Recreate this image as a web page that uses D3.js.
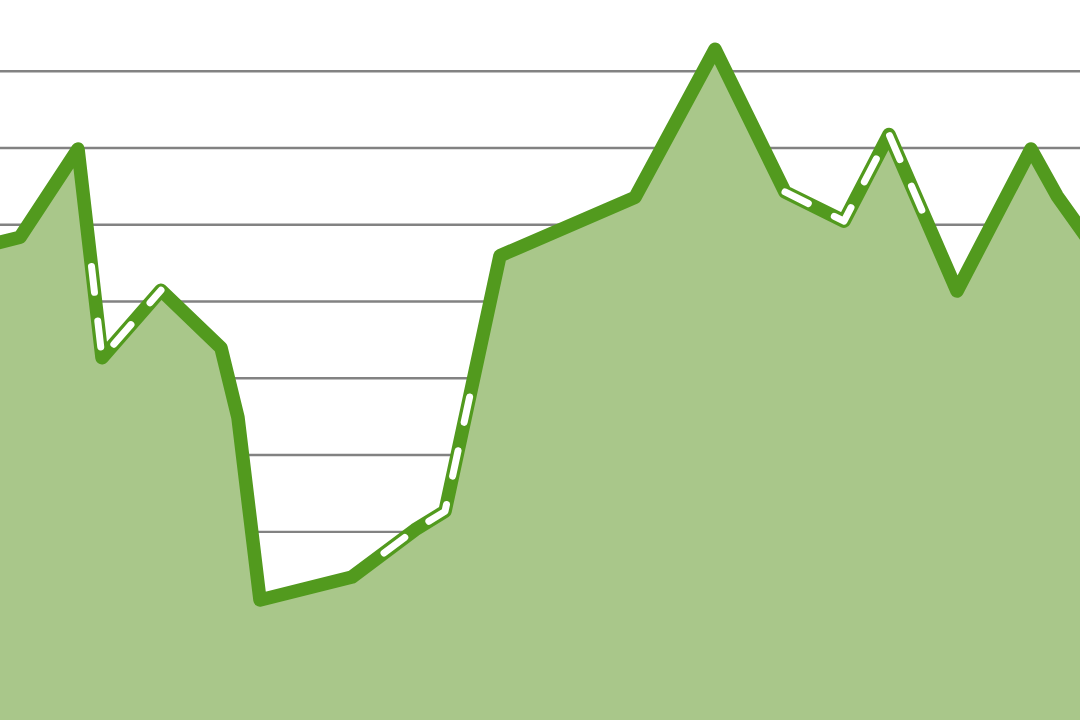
<!DOCTYPE html>
<html>
<head>
<meta charset="utf-8">
<script src="https://cdn.jsdelivr.net/npm/d3@7"></script>
<style>
  html, body { margin: 0; padding: 0; background: #ffffff; }
  svg { display: block; }
</style>
</head>
<body>
<div id="chart"></div>
<script>
// ---- data ----
const xValues = [-3, 2, 7.8, 10.2, 16.1, 22.1, 23.8, 26, 35.2, 41.5, 44.5, 50, 63.5, 71.5, 78.5, 84.4, 88.9, 95.7, 103.1, 105.7, 111];
const yValues = [46.7, 48.3, 59.8, 32.6, 41.4, 33.9, 24.8, 1.05, 4.05, 10.2, 12.6, 45.9, 53.5, 72.8, 54.2, 50.4, 61.7, 41.3, 59.8, 53.7, 44.0];
const gridValues = [10, 20, 30, 40, 50, 60, 70];
// x-ranges drawn with the dashed overlay
const dashedStart = [9.15, 38.4, 78.5];
const dashedEnd   = [16.1, 47.1, 93.2];

const W = 1080, H = 720;
const data = xValues.map((x, i) => ({ x, y: yValues[i] }));

const x = d3.scaleLinear().domain([0, 108]).range([0, W]);
const y = d3.scaleLinear().domain([0, 80]).range([608.1, -6.1]);

const svg = d3.select("#chart").append("svg")
  .attr("width", W).attr("height", H);

// gridlines via axis
const gridAxis = d3.axisLeft(y).tickValues(gridValues).tickSize(-W).tickFormat("");
const g = svg.append("g").call(gridAxis);
g.select(".domain").remove();
g.selectAll(".tick line").attr("stroke", "#828282").attr("stroke-width", 2.4);

// area
const area = d3.area().x(d => x(d.x)).y0(H).y1(d => y(d.y));
svg.append("path").datum(data).attr("d", area).attr("fill", "#a9c78a");

// main line
const line = d3.line().x(d => x(d.x)).y(d => y(d.y));
svg.append("path").datum(data).attr("d", line)
  .attr("fill", "none").attr("stroke", "#529a1e").attr("stroke-width", 13.5)
  .attr("stroke-linejoin", "round").attr("stroke-linecap", "round");

// sub-path of the line between two x values
function subPath(x0, x1) {
  const pts = [];
  const interp = (xv) => {
    for (let i = 0; i < data.length - 1; i++) {
      const a = data[i], b = data[i + 1];
      if (xv >= a.x && xv <= b.x) {
        const t = (xv - a.x) / (b.x - a.x);
        return { x: xv, y: a.y + t * (b.y - a.y) };
      }
    }
  };
  pts.push(interp(x0));
  data.forEach(d => { if (d.x > x0 && d.x < x1) pts.push(d); });
  pts.push(interp(x1));
  return pts;
}

dashedStart.forEach((s, i) => {
  const pts = subPath(s, dashedEnd[i]);
  svg.append("path").datum(pts).attr("d", line)
    .attr("fill", "none").attr("stroke", "#ffffff").attr("stroke-width", 7)
    .attr("stroke-dasharray", "26 29")
    .attr("stroke-linejoin", "round").attr("stroke-linecap", "round");
});
</script>
</body>
</html>
